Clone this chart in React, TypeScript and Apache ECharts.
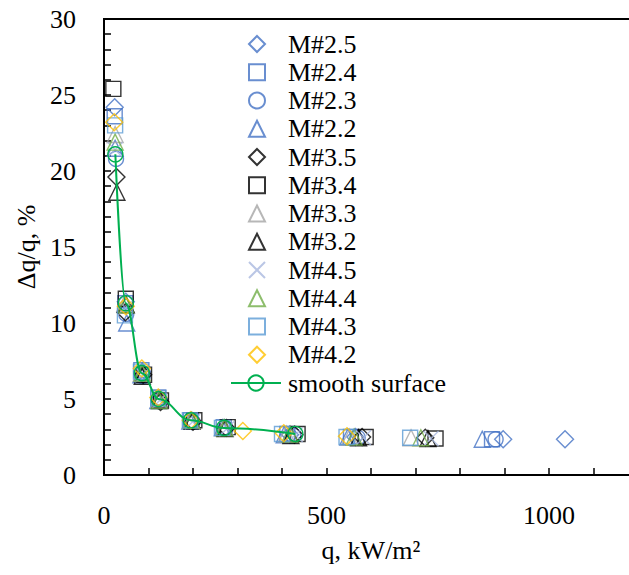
import React, { useEffect, useRef } from "react";
import * as echarts from "echarts";

// ---- data ----
const q_M25 = [24, 49, 86, 124, 197, 271, 418, 565, 897, 1036];
const v_M25 = [24.2, 11.4, 6.8, 5.0, 3.55, 3.1, 2.65, 2.5, 2.35, 2.35];

const q_M24 = [24, 48, 84, 122, 195, 269, 412, 555, 872];
const v_M24 = [23.6, 11.3, 6.9, 5.1, 3.6, 3.15, 2.7, 2.5, 2.35];

const q_M23 = [27, 50, 87, 126, 199, 273, 425, 570, 880];
const v_M23 = [20.8, 10.6, 6.5, 4.85, 3.5, 3.05, 2.6, 2.45, 2.35];

const q_M22 = [25, 51, 83, 121, 193, 266, 405, 548, 850];
const v_M22 = [21.5, 10.0, 6.6, 4.9, 3.55, 3.1, 2.65, 2.5, 2.35];

const q_M35 = [28, 48, 88, 127, 200, 275, 428, 580, 722];
const v_M35 = [19.6, 10.7, 6.6, 4.8, 3.5, 3.1, 2.65, 2.5, 2.45];

const q_M34 = [21, 49, 90, 128, 203, 278, 435, 588, 745];
const v_M34 = [25.4, 11.6, 6.6, 4.9, 3.6, 3.15, 2.7, 2.5, 2.4];

const q_M33 = [25, 47, 84, 123, 195, 268, 410, 552, 690];
const v_M33 = [22.4, 11.3, 6.7, 5.0, 3.6, 3.1, 2.7, 2.5, 2.45];

const q_M32 = [29, 50, 86, 125, 198, 272, 420, 572, 728];
const v_M32 = [18.6, 11.2, 6.5, 4.9, 3.55, 3.05, 2.6, 2.45, 2.4];

const q_M45 = [25, 48, 87, 125, 199, 276, 430, 583, 735];
const v_M45 = [21.4, 11.0, 6.6, 4.9, 3.5, 3.05, 2.65, 2.45, 2.4];

const q_M44 = [25, 49, 86, 124, 197, 271, 418, 562, 712];
const v_M44 = [21.9, 11.2, 6.7, 4.9, 3.6, 3.1, 2.7, 2.5, 2.45];

const q_M43 = [25, 47, 83, 122, 193, 265, 400, 545, 688];
const v_M43 = [23.0, 10.5, 6.8, 5.05, 3.6, 3.1, 2.7, 2.5, 2.45];

const q_M42 = [23, 49, 85, 122, 195, 312, 404, 546];
const v_M42 = [23.2, 11.1, 7.0, 5.1, 3.6, 2.9, 2.75, 2.55];

const q_smooth = [25.5, 49, 85, 123, 195, 270, 430];
const v_smooth = [21.1, 11.3, 6.7, 5.0, 3.6, 3.1, 2.7];

const xTicksLabelled = [0, 500, 1000];
const yTicksLabelled = [0, 5, 10, 15, 20, 25, 30];

const FONT = "Liberation Serif";
const CROSS = "path://M0,0L10,10M10,0L0,10";

const zip = (a: number[], b: number[]) => a.map((x, i) => [x, b[i]]);

const scatterDefs = [
  { name: "M#2.5", q: q_M25, v: v_M25, symbol: "diamond", color: "#4472C4", size: 17 },
  { name: "M#2.4", q: q_M24, v: v_M24, symbol: "rect", color: "#4472C4", size: 15 },
  { name: "M#2.3", q: q_M23, v: v_M23, symbol: "circle", color: "#4472C4", size: 15 },
  { name: "M#2.2", q: q_M22, v: v_M22, symbol: "triangle", color: "#4472C4", size: 16 },
  { name: "M#3.5", q: q_M35, v: v_M35, symbol: "diamond", color: "#000000", size: 17 },
  { name: "M#3.4", q: q_M34, v: v_M34, symbol: "rect", color: "#000000", size: 15 },
  { name: "M#3.3", q: q_M33, v: v_M33, symbol: "triangle", color: "#A5A5A5", size: 16 },
  { name: "M#3.2", q: q_M32, v: v_M32, symbol: "triangle", color: "#000000", size: 16 },
  { name: "M#4.5", q: q_M45, v: v_M45, symbol: CROSS, color: "#A9B8DE", size: 15 },
  { name: "M#4.4", q: q_M44, v: v_M44, symbol: "triangle", color: "#70AD47", size: 16 },
  { name: "M#4.3", q: q_M43, v: v_M43, symbol: "rect", color: "#5B9BD5", size: 15 },
  { name: "M#4.2", q: q_M42, v: v_M42, symbol: "diamond", color: "#FFC000", size: 17 },
];

export default function App() {
  const ref = useRef<HTMLDivElement>(null);
  useEffect(() => {
    if (!ref.current) return;
    const chart = echarts.init(ref.current, undefined, { renderer: "svg" });
    const series: any[] = scatterDefs.map((d) => ({
      name: d.name,
      type: "scatter",
      data: zip(d.q, d.v),
      symbol: d.symbol,
      symbolSize: d.size,
      itemStyle: { color: "transparent", borderColor: d.color, borderWidth: 1.4 },
      emphasis: { disabled: true },
    }));
    series.push({
      name: "smooth surface",
      type: "line",
      data: zip(q_smooth, v_smooth),
      smooth: 0.4,
      smoothMonotone: "x",
      symbol: "circle",
      symbolSize: 15,
      showAllSymbol: true,
      lineStyle: { color: "#00B050", width: 2 },
      itemStyle: { color: "transparent", borderColor: "#00B050", borderWidth: 1.4 },
      emphasis: { disabled: true },
    });
    const legendText = { fontFamily: FONT, fontSize: 26, color: "#000" };
    chart.setOption({
      animation: false,
      backgroundColor: "#ffffff",
      textStyle: { fontFamily: FONT },
      grid: {
        left: 104,
        top: 19,
        bottom: 100,
        right: 6,
        show: true,
        borderColor: "#000",
        borderWidth: 2,
        containLabel: false,
      },
      legend: [
        {
          orient: "vertical",
          left: 248,
          top: 31,
          padding: 0,
          itemWidth: 16,
          itemHeight: 16,
          itemGap: 2.25,
          textStyle: { ...legendText, padding: [0, 0, 0, 18] },
          data: scatterDefs.map((d) => d.name),
        },
        {
          orient: "vertical",
          left: 230,
          top: 31 + 12 * 28.25,
          padding: 0,
          itemWidth: 50,
          itemHeight: 19,
          textStyle: { ...legendText, padding: [0, 0, 0, 2] },
          data: ["smooth surface"],
        },
      ],
      xAxis: {
        type: "value",
        min: 0,
        max: 1200,
        interval: 100,
        name: "q, kW/m²",
        nameLocation: "middle",
        nameGap: 62,
        nameTextStyle: { fontFamily: FONT, fontSize: 26, color: "#000" },
        axisLine: { show: true, lineStyle: { color: "#000", width: 2 } },
        axisTick: { show: true, inside: true, length: 7, lineStyle: { color: "#000", width: 1.5 } },
        axisLabel: {
          margin: 27,
          fontFamily: FONT,
          fontSize: 26,
          color: "#000",
          formatter: (val: number) => (xTicksLabelled.includes(val) ? String(val) : ""),
        },
        splitLine: { show: false },
      },
      yAxis: {
        type: "value",
        min: 0,
        max: 30,
        interval: 5,
        name: "Δq/q, %",
        nameLocation: "middle",
        nameGap: 53,
        nameTextStyle: { fontFamily: FONT, fontSize: 26, color: "#000" },
        axisLine: { show: true, lineStyle: { color: "#000", width: 2 } },
        axisTick: { show: true, inside: true, length: 7, lineStyle: { color: "#000", width: 1.5 } },
        minorTick: { show: true, splitNumber: 5, length: 7, lineStyle: { color: "#000", width: 1.5 } },
        axisLabel: {
          margin: 28,
          fontFamily: FONT,
          fontSize: 26,
          color: "#000",
          formatter: (val: number) => (yTicksLabelled.includes(val) ? String(val) : ""),
        },
        splitLine: { show: false },
      },
      series,
    });
    return () => chart.dispose();
  }, []);
  return (
    <div style={{ position: "absolute", left: 0, top: 0, width: 629, height: 575, overflow: "hidden", background: "#fff" }}>
      <div ref={ref} style={{ width: 644, height: 575 }} />
    </div>
  );
}
